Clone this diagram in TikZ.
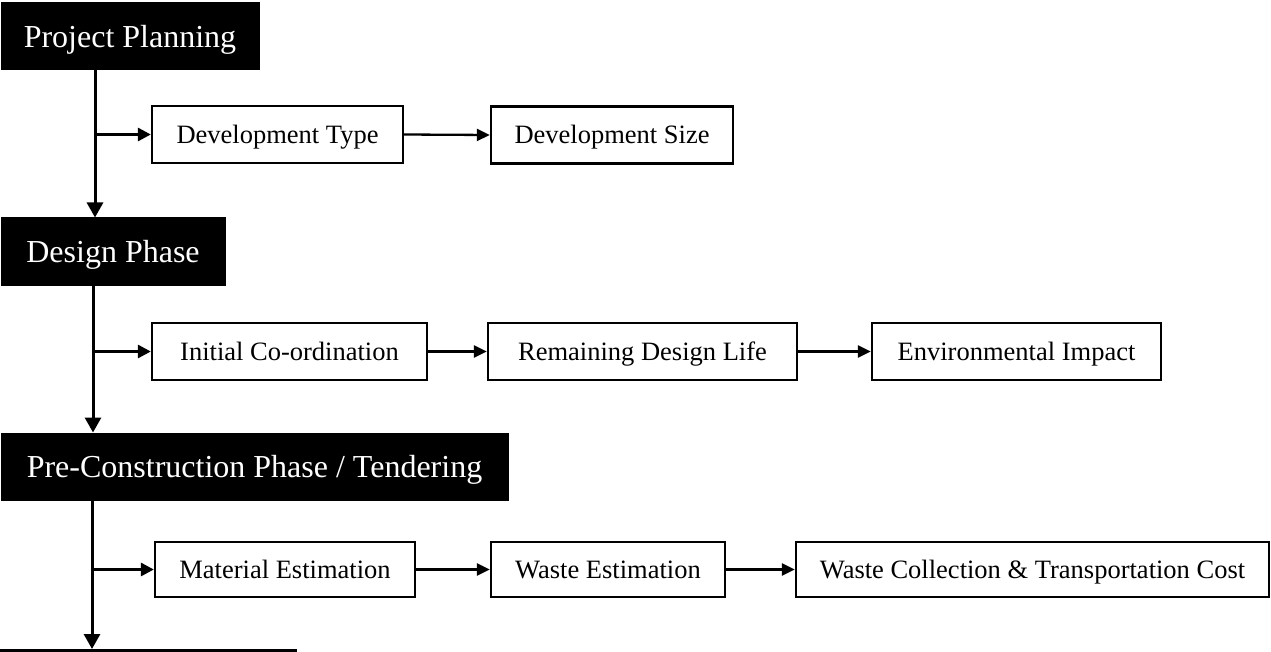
\documentclass[tikz,border=0pt]{standalone}
\usepackage{fontspec}
\setmainfont{Liberation Serif}
\usetikzlibrary{arrows.meta}
\tikzset{
  phase/.style={fill=black, draw=black, line width=1pt, text=white, inner sep=0pt,
    minimum height=67pt, text height=21.5pt, text depth=0pt,
    font=\fontsize{32}{38}\selectfont},
  item/.style={fill=white, draw=black, line width=2.3pt, inner sep=0pt,
    minimum height=57pt, text height=17.5pt, text depth=0pt,
    font=\fontsize{26.5}{32}\selectfont},
  trunk/.style={line width=3pt, -{Triangle[length=15pt,width=16pt]}},
  branch/.style={line width=3pt, -{Triangle[length=13pt,width=13pt]}},
  link/.style={line width=2.3pt, -{Triangle[length=13pt,width=12pt]}},
}
\begin{document}
\begin{tikzpicture}[x=1pt,y=-1pt]
\useasboundingbox (0,0) rectangle (1271,652);
% phases
\node[phase, minimum width=258pt] (pp) at (130,36.5) {Project Planning};
\node[phase, minimum width=224pt] (dp) at (113,251.5) {Design Phase};
\node[phase, minimum width=507pt] (pc) at (254.5,466.5) {Pre-Construction Phase / Tendering};
% next (cut-off) phase box
\fill[black] (0,649) rectangle (297,655);
\coordinate (nx) at (92,649);
% trunk coordinates
\coordinate (v1) at (95,0);
\coordinate (v2) at (93,0);
\coordinate (v3) at (92,0);
% row 1
\node[item, minimum width=251pt] (dt) at (277.5,134.5) {Development Type};
\node[item, minimum width=242pt] (ds) at (612,135) {Development Size};
% row 2
\node[item, minimum width=275pt] (ic) at (289.5,351.5) {Initial Co-ordination};
\node[item, minimum width=309pt] (rdl) at (642.5,351.5) {Remaining Design Life};
\node[item, minimum width=289pt] (ei) at (1016.5,351.5) {Environmental Impact};
% row 3
\node[item, minimum width=260pt, minimum height=55pt] (me) at (285,569.5) {Material Estimation};
\node[item, minimum width=234pt, minimum height=55pt] (we) at (608,569.5) {Waste Estimation};
\node[item, minimum width=473pt, minimum height=55pt] (wc) at (1032.5,569.5) {Waste Collection \& Transportation Cost};
% trunk
\draw[trunk] (pp.south -| v1) -- (dp.north -| v1);
\draw[trunk] (dp.south -| v2) -- (pc.north -| v2);
\draw[trunk] (pc.south -| v3) -- (nx);
% branches
\draw[branch] (v1 |- dt.west) -- (dt.west);
\draw[branch] (v2 |- ic.west) -- (ic.west);
\draw[branch] (v3 |- me.west) -- (me.west);
% links
\draw[link] (dt.east) -- (ds.west);
\draw[link] (ic.east) -- (rdl.west);
\draw[link] (rdl.east) -- (ei.west);
\draw[link] (me.east) -- (we.west);
\draw[link] (we.east) -- (wc.west);
\end{tikzpicture}
\end{document}
